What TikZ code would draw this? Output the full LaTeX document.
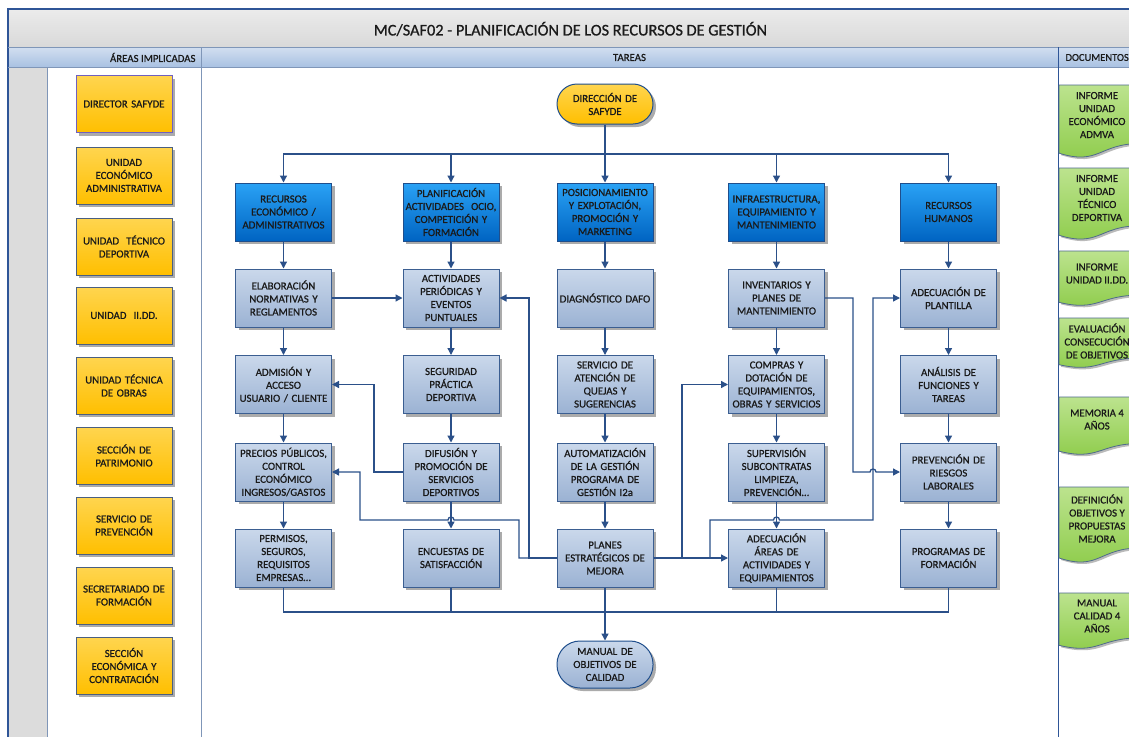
\documentclass[tikz,border=0pt]{standalone}
\usepackage{fontspec}
\setmainfont{Carlito}[RawFeature={embolden=0.8}]
\usetikzlibrary{arrows.meta,shadows}
\definecolor{frameb}{HTML}{2F5597}
\definecolor{lanel}{HTML}{7F96B8}
\definecolor{titleT}{HTML}{EBEBEB}
\definecolor{titleB}{HTML}{D9D9D9}
\definecolor{headT}{HTML}{D2DFF0}
\definecolor{headB}{HTML}{A9C1E2}
\definecolor{stripg}{HTML}{DCDCDC}
\definecolor{taskT}{HTML}{CAD8EB}
\definecolor{taskB}{HTML}{9BB2D3}
\definecolor{taskE}{HTML}{3B5E91}
\definecolor{blueT}{HTML}{2AA2F5}
\definecolor{blueB}{HTML}{0064C2}
\definecolor{blueE}{HTML}{1F4E8C}
\definecolor{yelT}{HTML}{FFD54F}
\definecolor{yelB}{HTML}{FFBF00}
\definecolor{yelE}{HTML}{4A5F80}
\definecolor{grnT}{HTML}{BCE38E}
\definecolor{grnB}{HTML}{8CCB48}
\definecolor{grnE}{HTML}{4F6B8C}
\definecolor{linec}{HTML}{2B5089}
\definecolor{txt}{HTML}{1A1A1A}
\newcommand\docshp[2]{%
  \fill[black!45,opacity=.6,shift={(2pt,-2pt)}] (1059,#1) -- (1140,#1) -- (1140,{#1+0.802*#2}) .. controls (1099,{#1+0.802*#2}) and (1099,{#1+1.107*#2}) .. (1059,{#1+0.934*#2}) -- cycle;
  \shade[top color=grnT,bottom color=grnB,draw=grnE,line width=.8pt] (1059,#1) -- (1140,#1) -- (1140,{#1+0.802*#2}) .. controls (1099,{#1+0.802*#2}) and (1099,{#1+1.107*#2}) .. (1059,{#1+0.934*#2}) -- cycle;
}
\begin{document}
\begin{tikzpicture}[x=1pt,y=-1pt,
  every node/.style={text=txt,font=\fontsize{10.8}{13}\selectfont},
  boxbase/.style={rectangle,minimum width=96pt,minimum height=58pt,text width=94pt,inner sep=1pt,align=center,line width=1pt,
    drop shadow={shadow xshift=3pt,shadow yshift=-3pt,fill=black!55,opacity=.6}},
  taskbox/.style={boxbase,draw=taskE,top color=taskT,bottom color=taskB},
  headbox/.style={boxbase,draw=blueE,top color=blueT,bottom color=blueB},
  areabox/.style={boxbase,minimum height=57pt,draw=yelE,top color=yelT,bottom color=yelB},
  termbox/.style={rectangle,minimum width=96pt,text width=94pt,inner sep=1pt,align=center,line width=1pt,
    drop shadow={shadow xshift=3pt,shadow yshift=-3pt,fill=black!55,opacity=.6}},
  doctext/.style={align=center,inner sep=0pt},
  conn/.style={draw=linec,line width=1.3pt},
  arr/.style={conn,-{Triangle[length=7pt,width=7pt]}}
]
\useasboundingbox (0,0) rectangle (1129,736);
\fill[white] (0,0) rectangle (1129,736);
% frame
\shade[top color=titleT,bottom color=titleB] (8,9) rectangle (1140,47);
\shade[top color=headT,bottom color=headB] (8,47) rectangle (1140,67);
\fill[stripg] (8,67) rectangle (47,740);
\draw[frameb,line width=1.2pt] (1140,9) -- (8,9) -- (8,740);
\draw[lanel,line width=1pt] (8,47) -- (1140,47);
\draw[lanel,line width=1pt] (8,67) -- (1140,67);
\draw[lanel,line width=1pt] (47,67) -- (47,740);
\draw[lanel,line width=1pt] (201,47) -- (201,740);
\draw[frameb,line width=1pt] (1058,47) -- (1058,740);
\node (title) at (570.5,29) {\fontsize{16.3}{19}\selectfont MC/SAF02 - PLANIFICACIÓN DE LOS RECURSOS DE GESTIÓN};
\node[anchor=east,font=\fontsize{10.8}{12}\selectfont] (hareas) at (199,57.5) {ÁREAS IMPLICADAS};
\node[font=\fontsize{10.8}{12}\selectfont] (htareas) at (629.5,57.5) {TAREAS};
\node[anchor=west,font=\fontsize{10.5}{12}\selectfont] (hdocs) at (1062,57.5) {DOCUMENTOS};
% areas
\node[areabox,draw={rgb,255:red,112;green,96;blue,192}] (a1) at (124,104) {DIRECTOR SAFYDE};
\node[areabox] (a2) at (124,175.5) {UNIDAD\\ECONÓMICO\\ADMINISTRATIVA};
\node[areabox] (a3) at (124,246.5) {UNIDAD\ \ TÉCNICO\\DEPORTIVA};
\node[areabox] (a4) at (124,315.5) {UNIDAD\ \ II.DD.};
\node[areabox] (a5) at (124,385.5) {UNIDAD TÉCNICA\\DE OBRAS};
\node[areabox] (a6) at (124,455.5) {SECCIÓN DE\\PATRIMONIO};
\node[areabox] (a7) at (124,525.5) {SERVICIO DE\\PREVENCIÓN};
\node[areabox] (a8) at (124,595.5) {SECRETARIADO DE\\FORMACIÓN};
\node[areabox] (a9) at (124,665.5) {SECCIÓN\\ECONÓMICA Y\\CONTRATACIÓN};
% documents
\docshp{85}{73}
\docshp{168}{72}
\docshp{251}{55}
\docshp{318}{50}
\docshp{397}{58}
\docshp{487}{76}
\docshp{593}{56}
\node[doctext] (d1) at (1097,115) {INFORME\\UNIDAD\\ECONÓMICO\\ADMVA};
\node[doctext] (d2) at (1097,198) {INFORME\\UNIDAD\\TÉCNICO\\DEPORTIVA};
\node[doctext] (d3) at (1097,273.5) {INFORME\\UNIDAD II.DD.};
\node[doctext] (d4) at (1097,341) {EVALUACIÓN\\CONSECUCIÓN\\DE OBJETIVOS};
\node[doctext] (d5) at (1097,419.5) {MEMORIA 4\\AÑOS};
\node[doctext] (d6) at (1097,518.5) {DEFINICIÓN\\OBJETIVOS Y\\PROPUESTAS\\MEJORA};
\node[doctext] (d7) at (1097,616) {MANUAL\\CALIDAD 4\\AÑOS};
% terminals
\node[termbox,minimum height=40pt,rounded corners=20pt,draw=blueE,top color=yelT,bottom color=yelB] (dir) at (605,104) {DIRECCIÓN DE\\SAFYDE};
\node[termbox,minimum height=47pt,rounded corners=23pt,draw=blueE,top color=taskT,bottom color=taskB] (man) at (605,664.5) {MANUAL DE\\OBJETIVOS DE\\CALIDAD};
% blue headers
\node[headbox] (b1) at (283.5,212) {RECURSOS\\ECONÓMICO /\\ADMINISTRATIVOS};
\node[headbox] (b2) at (451,212) {PLANIFICACIÓN\\ACTIVIDADES\ \ OCIO,\\COMPETICIÓN Y\\FORMACIÓN};
\node[headbox] (b3) at (605,212) {POSICIONAMIENTO\\Y EXPLOTACIÓN,\\PROMOCIÓN Y\\MARKETING};
\node[headbox] (b4) at (776.5,212) {INFRAESTRUCTURA,\\EQUIPAMIENTO Y\\MANTENIMIENTO};
\node[headbox] (b5) at (948.5,212) {RECURSOS\\HUMANOS};
% row 1
\node[taskbox] (t11) at (283.5,298) {ELABORACIÓN\\NORMATIVAS Y\\REGLAMENTOS};
\node[taskbox] (t12) at (451,298) {ACTIVIDADES\\PERIÓDICAS Y\\EVENTOS\\PUNTUALES};
\node[taskbox] (t13) at (605,298) {DIAGNÓSTICO DAFO};
\node[taskbox] (t14) at (776.5,298) {INVENTARIOS Y\\PLANES DE\\MANTENIMIENTO};
\node[taskbox] (t15) at (948.5,298) {ADECUACIÓN DE\\PLANTILLA};
% row 2
\node[taskbox] (t21) at (283.5,384.5) {ADMISIÓN Y\\ACCESO\\USUARIO / CLIENTE};
\node[taskbox] (t22) at (451,384.5) {SEGURIDAD\\PRÁCTICA\\DEPORTIVA};
\node[taskbox] (t23) at (605,384.5) {SERVICIO DE\\ATENCIÓN DE\\QUEJAS Y\\SUGERENCIAS};
\node[taskbox] (t24) at (776.5,384.5) {COMPRAS Y\\DOTACIÓN DE\\EQUIPAMIENTOS,\\OBRAS Y SERVICIOS};
\node[taskbox] (t25) at (948.5,384.5) {ANÁLISIS DE\\FUNCIONES Y\\TAREAS};
% row 3
\node[taskbox] (t31) at (283.5,472) {PRECIOS PÚBLICOS,\\CONTROL\\ECONÓMICO\\INGRESOS/GASTOS};
\node[taskbox] (t32) at (451,472) {DIFUSIÓN Y\\PROMOCIÓN DE\\SERVICIOS\\DEPORTIVOS};
\node[taskbox] (t33) at (605,472) {AUTOMATIZACIÓN\\DE LA GESTIÓN\\PROGRAMA DE\\GESTIÓN I2a};
\node[taskbox] (t34) at (776.5,472) {SUPERVISIÓN\\SUBCONTRATAS\\LIMPIEZA,\\PREVENCIÓN…};
\node[taskbox] (t35) at (948.5,472) {PREVENCIÓN DE\\RIESGOS\\LABORALES};
% row 4
\node[taskbox] (t41) at (283.5,558) {PERMISOS,\\SEGUROS,\\REQUISITOS\\EMPRESAS…};
\node[taskbox] (t42) at (451,558) {ENCUESTAS DE\\SATISFACCIÓN};
\node[taskbox] (t43) at (605,558) {PLANES\\ESTRATÉGICOS DE\\MEJORA};
\node[taskbox] (t44) at (776.5,558) {ADECUACIÓN\\ÁREAS DE\\ACTIVIDADES Y\\EQUIPAMIENTOS};
\node[taskbox] (t45) at (948.5,558) {PROGRAMAS DE\\FORMACIÓN};
% top bus
\coordinate (busT) at (605,154);
\draw[conn] (dir.south) -- (busT);
\draw[arr] (busT) -| (b1.north);
\draw[arr] (busT) -| (b2.north);
\draw[arr] (busT) -- (b3.north);
\draw[arr] (busT) -| (b4.north);
\draw[arr] (busT) -| (b5.north);
% columns
\foreach \c in {1,...,5}{
  \draw[arr] (b\c.south) -- (t1\c.north);
  \draw[arr] (t1\c.south) -- (t2\c.north);
  \draw[arr] (t2\c.south) -- (t3\c.north);
  \draw[arr] (t3\c.south) -- (t4\c.north);
}
% bottom bus
\coordinate (busB) at (605,612);
\draw[conn] (t41.south) |- (busB) -| (t45.south);
\draw[conn] (t42.south) -- (t42.south |- busB);
\draw[conn] (t44.south) -- (t44.south |- busB);
\draw[arr] (t43.south) -- (man.north);
% cross links
\draw[arr] (t11.east) -- (t12.west);
\draw[arr] (t43.west) -- (529,558) -- (529,298) -- (t12.east);
\draw[arr] (t43.west) -- (519,558) -- (519,520) -- (454,520) arc[start angle=0,end angle=180,radius=3pt] -- (360,520) -- (360,472) -- (t31.east);
\draw[arr] (t32.west) -- (374,472) -- (374,384.5) -- (t21.east);
\draw[arr] (t43.east) -- (t44.west);
\draw[arr] (t43.east) -- (682,558) -- (682,384.5) -- (t24.west);
\draw[arr] (t43.east) -- (710,558) -- (710,520) -- (773.5,520) arc[start angle=180,end angle=0,radius=3pt] -- (873,520) -- (873,298) -- (t15.west);
\draw[arr] (t14.east) -- (853,298) -- (853,472) -- (870,472) arc[start angle=180,end angle=0,radius=3pt] -- (t35.west);
\end{tikzpicture}
\end{document}
